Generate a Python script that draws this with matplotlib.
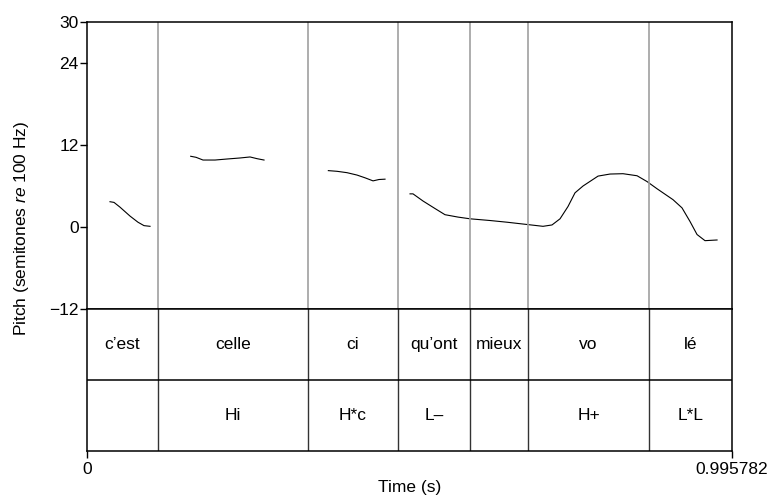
import matplotlib
matplotlib.use("Agg")
import matplotlib.pyplot as plt
import numpy as np

plt.rcParams['font.family'] = ['Liberation Sans', 'DejaVu Sans']
plt.rcParams['mathtext.fontset'] = 'custom'
plt.rcParams['mathtext.it'] = 'Liberation Sans:italic'
plt.rcParams['mathtext.rm'] = 'Liberation Sans'

t_end = 0.995782

# pitch contour pieces (time in s, semitones re 100 Hz)
t1 = [0.0355, 0.0417, 0.0510, 0.0664, 0.0787, 0.0880, 0.0973]
p1 = [3.7, 3.6, 2.9, 1.6, 0.7, 0.2, 0.1]
t2 = [0.1601, 0.1683, 0.1791, 0.1976, 0.2162, 0.2362, 0.2517, 0.2625, 0.2733]
p2 = [10.35, 10.2, 9.8, 9.8, 9.95, 10.1, 10.25, 10.0, 9.8]
t3 = [0.3726, 0.3860, 0.4014, 0.4169, 0.4292, 0.4416, 0.4508, 0.4601]
p3 = [8.25, 8.15, 7.95, 7.6, 7.2, 6.75, 6.95, 7.0]
t4 = [0.4987, 0.5033, 0.5188, 0.5373, 0.5527, 0.5728, 0.5913, 0.6222, 0.6485,
      0.6809, 0.7040, 0.7179, 0.7303, 0.7426, 0.7534, 0.7658, 0.7890, 0.8075,
      0.8275, 0.8492, 0.8646, 0.8800, 0.9047, 0.9186, 0.9310, 0.9418, 0.9541, 0.9727]
p4 = [4.85, 4.85, 3.8, 2.7, 1.8, 1.45, 1.2, 0.95, 0.7,
      0.35, 0.1, 0.3, 1.2, 3.0, 5.0, 6.0, 7.45, 7.75,
      7.8, 7.5, 6.65, 5.6, 4.0, 2.8, 0.8, -1.1, -2.0, -1.9]

# text grid
bounds = [0, 0.1096, 0.3412, 0.4802, 0.5913, 0.6809, 0.8677, t_end]
words = ["c\u2019est", "celle", "ci", "qu\u2019ont", "mieux", "vo", "l\u00e9"]
tones = ["", "Hi", "H*c", "L\u2013", "", "H+", "L*L"]

yticks = [-12, 0, 12, 24, 30]
fs = 12.5

fig = plt.figure(figsize=(7.7, 4.99), dpi=100)
L, R = 87 / 770, 732 / 770
ax = fig.add_axes([L, 1 - 309 / 499, R - L, (309 - 22) / 499])
axt = fig.add_axes([L, 1 - 451 / 499, R - L, (451 - 309) / 499])

for t, p in [(t1, p1), (t2, p2), (t3, p3), (t4, p4)]:
    ax.plot(t, p, color='black', lw=0.8)

for b in bounds[1:-1]:
    ax.axvline(b, color='#a0a0a0', lw=1.2)
    axt.axvline(b, color='#333333', lw=1.0)

ax.set_xlim(0, t_end)
ax.set_ylim(-12, 30)
ax.set_yticks(yticks)
ax.set_yticklabels([str(v).replace('-', '\u2212') for v in yticks], fontsize=fs)
ax.set_xticks([])
ax.tick_params(axis='y', length=5, width=1.0, pad=1)
for s in ax.spines.values():
    s.set_linewidth(1.1)

axt.set_xlim(0, t_end)
axt.set_ylim(0, 2)
axt.set_yticks([])
axt.axhline(1, color='black', lw=1.1)
for s in axt.spines.values():
    s.set_linewidth(1.1)
axt.set_xticks([0, t_end])
axt.set_xticklabels(['0', '0.995782'], fontsize=fs)
axt.tick_params(axis='x', length=5, width=1.0, pad=3)

for i in range(len(words)):
    xc = (bounds[i] + bounds[i + 1]) / 2
    axt.text(xc, 1.5, words[i], ha='center', va='center', fontsize=fs)
    axt.text(xc, 0.5, tones[i], ha='center', va='center', fontsize=fs)

axt.set_xlabel('Time (s)', fontsize=fs, labelpad=2)
fig.text(22 / 770, 1 - 228 / 499, 'Pitch (semitones $\\it{re}$ 100 Hz)',
         rotation=90, ha='center', va='center', fontsize=fs)

fig.savefig('out.png', dpi=100)
